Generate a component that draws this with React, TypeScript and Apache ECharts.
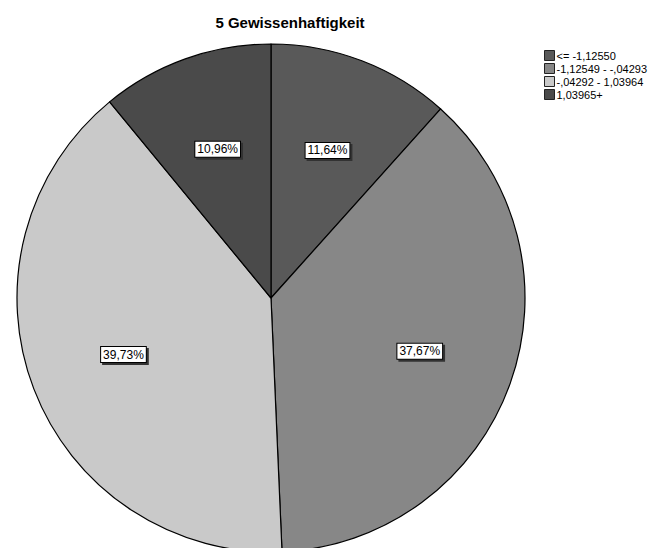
import React, { useEffect, useRef } from "react";
import * as echarts from "echarts";

// Category labels (legend) and their share in percent
const categories = ["<= -1,12550", "-1,12549 - -,04293", "-,04292 - 1,03964", "1,03965+"];
const percents = [11.64, 37.67, 39.73, 10.96];
const sliceColors = ["#595959", "#878787", "#c9c9c9", "#4a4a4a"];

const chartTitle = "5 Gewissenhaftigkeit";
const FONT = 'Arial, "Liberation Sans", sans-serif';

const fmt = (v: number) => v.toFixed(2).replace(".", ",") + "%";

export default function App() {
  const ref = useRef<HTMLDivElement>(null);

  useEffect(() => {
    if (!ref.current) return;
    const chart = echarts.init(ref.current, null, { renderer: "svg" });
    const data = categories.map((name, i) => ({
      name,
      value: percents[i],
      itemStyle: { color: sliceColors[i] },
    }));
    chart.setOption({
      animation: false,
      backgroundColor: "#ffffff",
      title: {
        text: chartTitle,
        left: 285,
        top: 10,
        textAlign: "center",
        textStyle: { fontFamily: FONT, fontSize: 15, fontWeight: "bold", color: "#000" },
      },
      legend: {
        orient: "vertical",
        left: 539,
        top: 45,
        itemWidth: 10,
        itemHeight: 10,
        itemGap: 2,
        icon: "rect",
        selectedMode: false,
        data: categories,
        itemStyle: { borderColor: "#222", borderWidth: 1 },
        textStyle: { fontFamily: FONT, fontSize: 11, color: "#000", padding: [0, 0, 0, -3] },
      },
      series: [
        {
          type: "pie",
          center: [271, 298],
          radius: 254,
          startAngle: 90,
          clockwise: true,
          silent: true,
          label: { show: false },
          labelLine: { show: false },
          itemStyle: { borderColor: "#000", borderWidth: 1.2 },
          data,
        },
        {
          // label ring: places the percentage boxes inside each slice
          type: "pie",
          center: [271, 298],
          radius: [95, 215],
          startAngle: 90,
          clockwise: true,
          silent: true,
          legendHoverLink: false,
          itemStyle: { color: "transparent", borderWidth: 0 },
          labelLine: { show: false },
          label: {
            show: true,
            position: "inside",
            formatter: (p: any) => fmt(p.value),
            fontFamily: FONT,
            fontSize: 12,
            color: "#000",
            backgroundColor: "#ffffff",
            borderColor: "#000",
            borderWidth: 1,
            padding: [2, 2, 1, 2],
            shadowColor: "#333",
            shadowOffsetX: 2,
            shadowOffsetY: 2,
            shadowBlur: 0,
          },
          data: categories.map((name, i) => ({ name, value: percents[i] })),
        },
      ],
    });
    return () => chart.dispose();
  }, []);

  return (
    <div
      ref={ref}
      style={{ position: "fixed", left: 0, top: 0, width: 660, height: 548 }}
    />
  );
}
